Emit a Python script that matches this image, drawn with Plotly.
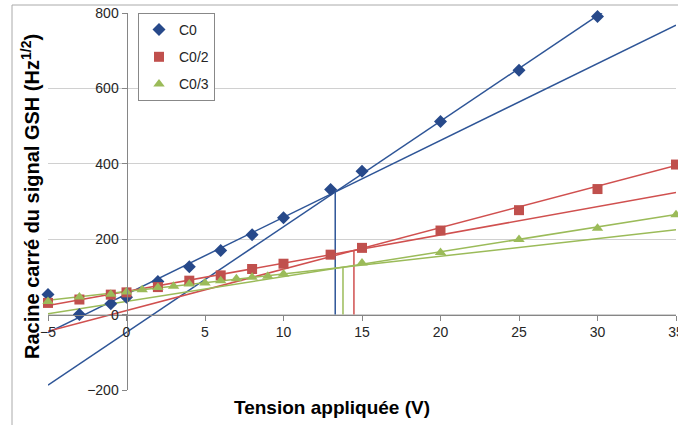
import plotly.graph_objects as go

# ---------------- data ----------------
x_c0 = [-5, -3, -1, 0, 2, 4, 6, 8, 10, 13, 15, 20, 25, 30]
y_c0 = [53, 0, 29, 46, 88, 127, 170, 212, 257, 332, 380, 512, 648, 791]

x_c02 = [-5, -3, -1, 0, 2, 4, 6, 8, 10, 13, 15, 20, 25, 30, 35]
y_c02 = [31, 40, 53, 59, 73, 90, 104, 121, 135, 159, 177, 223, 277, 333, 398]

x_c03 = [-5, -3, -1, 0, 1, 2, 3, 4, 5, 6, 7, 8, 9, 10, 15, 20, 25, 30, 35]
y_c03 = [35, 47, 54, 60, 66, 72, 75, 81, 84, 90, 95, 99, 102, 108, 137, 165, 199, 229, 265]

# two linear fits per series (slope, intercept)
c0_fit_slopes = [28.0, 20.38]
c0_fit_intercepts = [-47.0, 54.3]
c02_fit_slopes = [11.0, 7.5]
c02_fit_intercepts = [10.7, 61.4]
c03_fit_slopes = [6.58, 4.68]
c03_fit_intercepts = [35.0, 61.2]

fit_x = [-5, 35]

x_ticks = [-5, 0, 5, 10, 15, 20, 25, 30, 35]
y_ticks = [-200, 0, 200, 400, 600, 800]

series = [
    dict(name="C0", x=x_c0, y=y_c0, m=c0_fit_slopes, b=c0_fit_intercepts,
         mcolor="#27498A", lcolor="#2E5597", symbol="diamond", size=10),
    dict(name="C0/2", x=x_c02, y=y_c02, m=c02_fit_slopes, b=c02_fit_intercepts,
         mcolor="#C0504D", lcolor="#D0504F", symbol="square", size=10),
    dict(name="C0/3", x=x_c03, y=y_c03, m=c03_fit_slopes, b=c03_fit_intercepts,
         mcolor="#9BBB59", lcolor="#9BBB59", symbol="triangle-up", size=10),
]

fig = go.Figure()

# fitted lines and intersection drop lines
for s in series:
    for m, b in zip(s["m"], s["b"]):
        fig.add_trace(go.Scatter(
            x=fit_x, y=[m * v + b for v in fit_x], mode="lines",
            line=dict(color=s["lcolor"], width=1.5),
            showlegend=False, hoverinfo="skip"))
    m0, m1 = s["m"]
    b0, b1 = s["b"]
    xc = (b1 - b0) / (m0 - m1)
    yc = m0 * xc + b0
    fig.add_trace(go.Scatter(
        x=[xc, xc], y=[0, yc], mode="lines",
        line=dict(color=s["lcolor"], width=1.5),
        showlegend=False, hoverinfo="skip"))

# data markers
for i, s in enumerate(series):
    fig.add_trace(go.Scatter(
        x=s["x"], y=s["y"], mode="markers", name=s["name"],
        legendgroup="g%d" % i,
        marker=dict(symbol=s["symbol"], size=s["size"], color=s["mcolor"]),
        cliponaxis=False))

# invisible trace so the display axis (y2) is rendered
fig.add_trace(go.Scatter(x=[None], y=[None], yaxis="y2", showlegend=False,
                         hoverinfo="skip"))

W, H = 678, 425
L, R, T, B = 48, 2, 13, 35
pw = W - L - R
ph = H - T - B

def px(xs):
    return (xs - L) / pw

def py(ys):
    return (H - B - ys) / ph

fig.update_layout(
    width=W, height=H,
    margin=dict(l=L, r=R, t=T, b=B, pad=0),
    paper_bgcolor="white", plot_bgcolor="white",
    font=dict(family="Liberation Sans, Arial, sans-serif", size=14, color="#262626"),
    xaxis=dict(range=[-5, 35], tickvals=x_ticks, showgrid=False, zeroline=False,
               showline=True, linecolor="#868686", linewidth=1,
               ticks="outside", ticklen=5, tickcolor="#868686",
               anchor="free", position=0.2, ticklabeloverflow="allow",
               automargin=False,
               tickfont=dict(size=14, color="#262626")),
    # gridlines only
    yaxis=dict(range=[-200, 800], tickvals=y_ticks, showgrid=True,
               gridcolor="#D0D0D0", gridwidth=1, zeroline=False,
               showline=False, showticklabels=False, ticks="",
               automargin=False),
    # visible axis crossing at x = 0
    yaxis2=dict(range=[-200, 800], tickvals=y_ticks, overlaying="y",
                showgrid=False, zeroline=False,
                showline=True, linecolor="#868686", linewidth=1,
                ticks="outside", ticklen=5, tickcolor="#868686",
                anchor="free", position=0.125, side="left",
                ticklabeloverflow="allow", automargin=False,
                tickfont=dict(size=14, color="#262626")),
    legend=dict(x=px(138), y=py(13), xanchor="left", yanchor="top",
                bgcolor="white", bordercolor="#888888", borderwidth=1,
                font=dict(size=14, color="#262626"),
                traceorder="grouped", tracegroupgap=6,
                entrywidth=56, entrywidthmode="pixels"),
    showlegend=True,
)

fig.add_annotation(
    text="<b>Racine carré du signal GSH (Hz<sup>1/2</sup>)</b>",
    x=px(31), y=py(197), xref="paper", yref="paper",
    textangle=-90, showarrow=False, xanchor="center", yanchor="middle",
    font=dict(size=20, color="#000000"))

fig.add_annotation(
    text="<b>Tension appliquée (V)</b>",
    x=px(332), y=py(407), xref="paper", yref="paper",
    showarrow=False, xanchor="center", yanchor="middle",
    font=dict(size=19, color="#000000"))

# chart frame (left and top border)
fig.add_shape(type="line", xref="paper", yref="paper",
              x0=px(12), x1=px(12), y0=py(430), y1=py(5),
              line=dict(color="#AAAAAA", width=1))
fig.add_shape(type="line", xref="paper", yref="paper",
              x0=px(12), x1=px(700), y0=py(5), y1=py(5),
              line=dict(color="#AAAAAA", width=1))

fig.write_html(
    "out.html",
    config={"displayModeBar": False},
    post_script="document.body.style.margin='0';"
                "document.body.style.overflow='hidden';"
                "document.documentElement.style.overflow='hidden';",
)
